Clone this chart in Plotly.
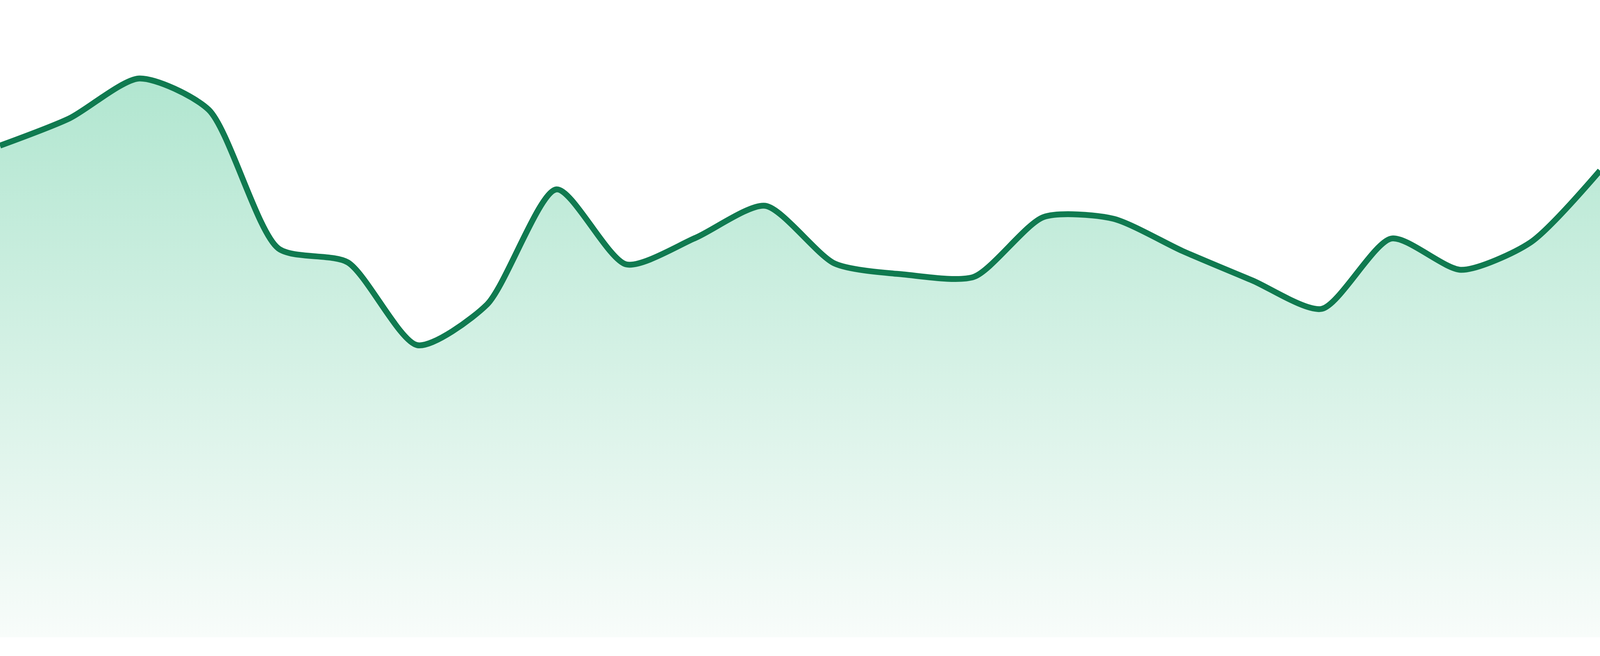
import plotly.graph_objects as go

# 24 evenly spaced samples
idx = list(range(24))
values = [125.9, 132.9, 143.1, 135.1, 99.6, 96.0, 74.8, 85.2,
          114.7, 95.5, 102.3, 110.5, 95.7, 92.9, 92.3, 107.6,
          107.2, 98.9, 91.4, 84.1, 102.1, 94.1, 101.1, 119.5]

line_color = "#107a50"
fill_top = "#b1e6d0"
fill_bottom = "#f8fcfa"

fig = go.Figure()
fig.add_trace(go.Scatter(
    x=idx, y=values,
    mode="lines",
    line=dict(color=line_color, width=15, shape="spline", smoothing=0.7),
    fill="tozeroy",
    fillgradient=dict(type="vertical", start=0, stop=max(values),
                      colorscale=[[0, fill_bottom], [1, fill_top]]),
    hoverinfo="skip",
))

# size follows the window, bottom gap kept as a share of the height
fig.update_layout(
    autosize=True,
    margin=dict(l=0, r=0, t=0, b=0, pad=0),
    paper_bgcolor="white", plot_bgcolor="white",
    showlegend=False,
    xaxis=dict(visible=False, range=[0, 23], fixedrange=True),
    yaxis=dict(visible=False, range=[0, 163.2], fixedrange=True,
               domain=[48 / 1680, 1]),
)

fig.write_html("out.html", config={"displayModeBar": False, "responsive": True},
               default_width="100vw", default_height="100vh",
               post_script="document.body.style.margin='0';document.body.style.overflow='hidden';"
                           "window.dispatchEvent(new Event('resize'));")
